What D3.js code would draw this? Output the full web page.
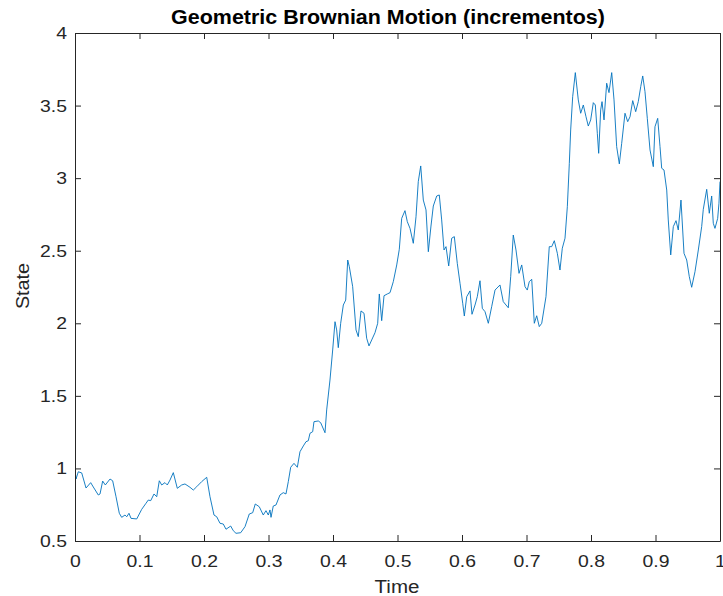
<!DOCTYPE html>
<html>
<head>
<meta charset="utf-8">
<script src="https://cdn.jsdelivr.net/npm/d3@7/dist/d3.min.js"></script>
<style>
  html, body { margin: 0; padding: 0; background: #fff; }
  svg { display: block; font-family: "Liberation Sans", Arial, Helvetica, sans-serif; }
</style>
</head>
<body>
<svg id="chart" width="723" height="596"></svg>
<script>
// Sample path of a geometric Brownian motion built from increments
const time = [
  0, 0.0016, 0.0051, 0.0104, 0.0171, 0.0243, 0.0284, 0.0361, 0.0388, 0.0429,
  0.0470, 0.0543, 0.0584, 0.0636, 0.0687, 0.0724, 0.0775, 0.0802, 0.0837, 0.0868,
  0.0957, 0.1034, 0.1101, 0.1136, 0.1174, 0.1225, 0.1267, 0.1307, 0.1344, 0.1395,
  0.1431, 0.1473, 0.1524, 0.1586, 0.1654, 0.1705, 0.1783, 0.1834, 0.1887, 0.1964,
  0.2042, 0.2093, 0.2155, 0.2197, 0.2248, 0.2299, 0.2341, 0.2414, 0.2454, 0.2496,
  0.2569, 0.2636, 0.2702, 0.2755, 0.2795, 0.2857, 0.2919, 0.2961, 0.2997, 0.3023,
  0.3039, 0.3074, 0.3116, 0.3178, 0.3229, 0.3271, 0.3307, 0.3344, 0.3395, 0.3447,
  0.3488, 0.3540, 0.3581, 0.3617, 0.3643, 0.3685, 0.3705, 0.3772, 0.3809, 0.3876,
  0.3902, 0.3953, 0.3995, 0.4031, 0.4057, 0.4082, 0.4119, 0.4160, 0.4197, 0.4228,
  0.4253, 0.4305, 0.4357, 0.4392, 0.4434, 0.4481, 0.4522, 0.4558, 0.4600, 0.4651,
  0.4693, 0.4718, 0.4755, 0.4791, 0.4842, 0.4884, 0.4935, 0.4988, 0.5028, 0.5065,
  0.5116, 0.5152, 0.5194, 0.5245, 0.5287, 0.5322, 0.5360, 0.5400, 0.5442, 0.5478,
  0.5519, 0.5555, 0.5608, 0.5648, 0.5685, 0.5721, 0.5752, 0.5794, 0.5840, 0.5881,
  0.5927, 0.5969, 0.6011, 0.6036, 0.6073, 0.6124, 0.6155, 0.6202, 0.6237, 0.6279,
  0.6315, 0.6357, 0.6408, 0.6460, 0.6512, 0.6589, 0.6640, 0.6718, 0.6755, 0.6795,
  0.6837, 0.6884, 0.6926, 0.6977, 0.7012, 0.7043, 0.7081, 0.7121, 0.7158, 0.7198,
  0.7236, 0.7302, 0.7353, 0.7391, 0.7431, 0.7478, 0.7519, 0.7555, 0.7597, 0.7633,
  0.7664, 0.7685, 0.7716, 0.7757, 0.7803, 0.7840, 0.7881, 0.7922, 0.7958, 0.7995,
  0.8036, 0.8067, 0.8098, 0.8119, 0.8150, 0.8171, 0.8202, 0.8243, 0.8279, 0.8321,
  0.8357, 0.8398, 0.8439, 0.8476, 0.8527, 0.8569, 0.8605, 0.8647, 0.8693, 0.8733,
  0.8771, 0.8802, 0.8837, 0.8873, 0.8915, 0.8966, 0.8992, 0.9034, 0.9070, 0.9096,
  0.9132, 0.9174, 0.9198, 0.9236, 0.9276, 0.9318, 0.9353, 0.9395, 0.9442, 0.9484,
  0.9524, 0.9561, 0.9612, 0.9664, 0.9716, 0.9741, 0.9794, 0.9834, 0.9871, 0.9896,
  0.9922, 0.9964, 0.9984, 1.0
];
const state = [
  0.99, 0.927, 0.977, 0.969, 0.865, 0.902, 0.872, 0.817, 0.824, 0.913,
  0.886, 0.927, 0.915, 0.805, 0.691, 0.663, 0.679, 0.667, 0.691, 0.656,
  0.652, 0.718, 0.760, 0.782, 0.778, 0.824, 0.805, 0.915, 0.886, 0.902,
  0.886, 0.920, 0.971, 0.863, 0.886, 0.893, 0.870, 0.851, 0.874, 0.909,
  0.939, 0.805, 0.679, 0.667, 0.622, 0.617, 0.581, 0.603, 0.571, 0.553,
  0.557, 0.599, 0.686, 0.695, 0.755, 0.736, 0.679, 0.709, 0.679, 0.714,
  0.663, 0.741, 0.748, 0.817, 0.833, 0.824, 0.909, 1.008, 1.035, 1.008,
  1.115, 1.155, 1.184, 1.191, 1.242, 1.253, 1.322, 1.327, 1.315, 1.246,
  1.403, 1.609, 1.816, 2.011, 1.954, 1.832, 2.000, 2.126, 2.160, 2.436,
  2.390, 2.252, 1.954, 1.908, 2.085, 2.069, 1.897, 1.844, 1.885, 1.935,
  2.000, 2.202, 2.018, 2.190, 2.202, 2.211, 2.287, 2.402, 2.510, 2.723,
  2.776, 2.700, 2.654, 2.551, 2.734, 2.976, 3.084, 2.849, 2.781, 2.493,
  2.670, 2.808, 2.877, 2.884, 2.712, 2.505, 2.528, 2.395, 2.586, 2.597,
  2.413, 2.276, 2.138, 2.050, 2.183, 2.223, 2.062, 2.126, 2.183, 2.293,
  2.103, 2.080, 2.000, 2.114, 2.229, 2.264, 2.149, 2.107, 2.321, 2.608,
  2.505, 2.344, 2.402, 2.252, 2.229, 2.287, 2.303, 2.000, 2.052, 1.977,
  2.000, 2.183, 2.528, 2.528, 2.569, 2.482, 2.367, 2.517, 2.586, 2.803,
  3.102, 3.332, 3.561, 3.727, 3.539, 3.447, 3.504, 3.424, 3.359, 3.401,
  3.520, 3.504, 3.309, 3.171, 3.470, 3.527, 3.401, 3.654, 3.589, 3.727,
  3.539, 3.217, 3.098, 3.240, 3.447, 3.389, 3.423, 3.534, 3.458, 3.527,
  3.630, 3.704, 3.596, 3.412, 3.194, 3.079, 3.354, 3.412, 3.217, 3.068,
  3.056, 2.918, 2.712, 2.471, 2.666, 2.707, 2.643, 2.849, 2.482, 2.436,
  2.321, 2.248, 2.355, 2.505, 2.666, 2.785, 2.923, 2.758, 2.877, 2.689,
  2.654, 2.723, 2.827, 2.976
];
const xTicks = [0, 0.1, 0.2, 0.3, 0.4, 0.5, 0.6, 0.7, 0.8, 0.9, 1];
const yTicks = [0.5, 1, 1.5, 2, 2.5, 3, 3.5, 4];
const titleText = "Geometric Brownian Motion (incrementos)";
const xLabel = "Time";
const yLabel = "State";

const svg = d3.select("#chart");
const margin = { left: 75, right: 3, top: 33, bottom: 55 };
const W = 723, H = 596;
const x = d3.scaleLinear().domain([0, 1]).range([margin.left, W - margin.right]);
const y = d3.scaleLinear().domain([0.5, 4]).range([H - margin.bottom, margin.top]);

const axisColor = "#262626";
const tickLen = 6;
const widen = 1.14; // text is set a little wider than the stock face

// stretch a text's glyphs horizontally by a factor
function stretch(sel, k) {
  sel.each(function () {
    const w = this.getComputedTextLength();
    if (w > 0) {
      d3.select(this).attr("textLength", w * k).attr("lengthAdjust", "spacingAndGlyphs");
    }
  });
}

// clipped plot area
svg.append("clipPath").attr("id", "plotclip")
  .append("rect")
  .attr("x", x(0)).attr("y", y(4))
  .attr("width", x(1) - x(0)).attr("height", y(0.5) - y(4));

const points = time.map((t, i) => [t, state[i]]);
svg.append("path")
  .datum(points)
  .attr("clip-path", "url(#plotclip)")
  .attr("fill", "none")
  .attr("stroke", "#0072BD")
  .attr("stroke-width", 0.9)
  .attr("stroke-linejoin", "round")
  .attr("d", d3.line().x(d => x(d[0])).y(d => y(d[1])));

// axes: bottom/left with labels, top/right as box with inward ticks
function styleAxis(g) {
  g.select(".domain").attr("stroke", axisColor).attr("stroke-width", 1);
  g.selectAll(".tick line").attr("stroke", axisColor).attr("stroke-width", 1);
  g.selectAll(".tick text").attr("fill", axisColor).attr("font-size", 17);
}

const xAxis = svg.append("g")
  .attr("transform", `translate(0,${y(0.5)})`)
  .call(d3.axisBottom(x).tickValues(xTicks).tickFormat(d3.format("~g"))
    .tickSizeInner(-tickLen).tickSizeOuter(0).tickPadding(14));
styleAxis(xAxis);
xAxis.selectAll(".tick text").attr("dy", "0.71em");
stretch(xAxis.selectAll(".tick text"), widen);

const yAxis = svg.append("g")
  .attr("transform", `translate(${x(0)},0)`)
  .call(d3.axisLeft(y).tickValues(yTicks).tickFormat(d3.format("~g"))
    .tickSizeInner(-tickLen).tickSizeOuter(0).tickPadding(8));
styleAxis(yAxis);
stretch(yAxis.selectAll(".tick text"), widen);

const xTop = svg.append("g")
  .attr("transform", `translate(0,${y(4)})`)
  .call(d3.axisTop(x).tickValues(xTicks).tickFormat("")
    .tickSizeInner(-tickLen).tickSizeOuter(0));
styleAxis(xTop);

const yRight = svg.append("g")
  .attr("transform", `translate(${x(1)},0)`)
  .call(d3.axisRight(y).tickValues(yTicks).tickFormat("")
    .tickSizeInner(-tickLen).tickSizeOuter(0));
styleAxis(yRight);

// title and axis labels
const title = svg.append("text")
  .attr("x", 388).attr("y", 24)
  .attr("text-anchor", "middle")
  .attr("font-size", 19.5).attr("font-weight", "bold")
  .attr("fill", "#000")
  .text(titleText);
stretch(title, 1.1);

const xl = svg.append("text")
  .attr("x", 397).attr("y", 593)
  .attr("text-anchor", "middle")
  .attr("font-size", 18).attr("fill", axisColor)
  .text(xLabel);
stretch(xl, widen);

const yl = svg.append("text")
  .attr("transform", `translate(29,286) rotate(-90)`)
  .attr("text-anchor", "middle")
  .attr("font-size", 18).attr("fill", axisColor)
  .text(yLabel);
stretch(yl, 1.1);
</script>
</body>
</html>
